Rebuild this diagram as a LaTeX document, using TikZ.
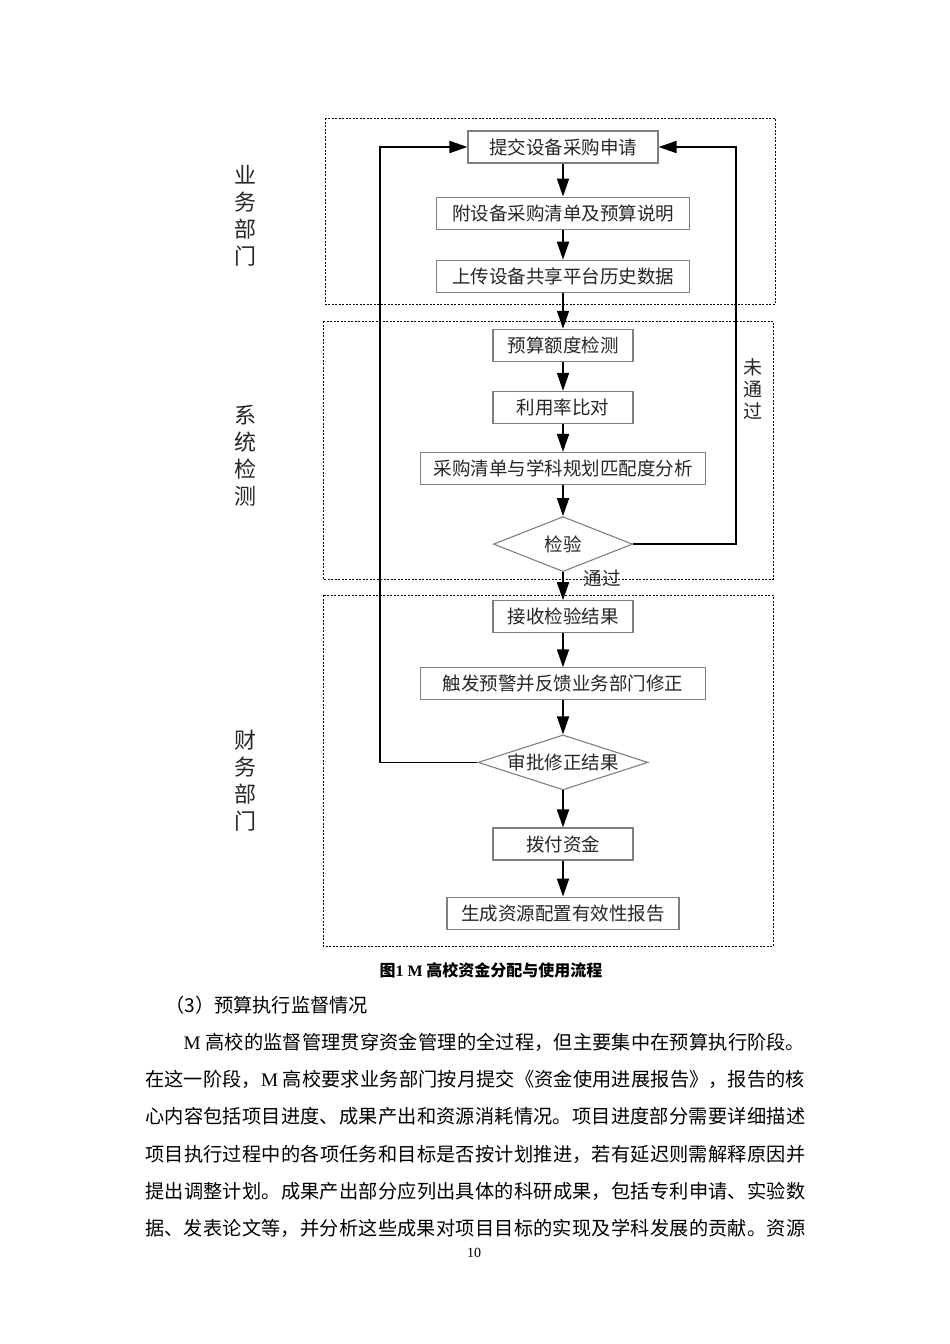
\documentclass[tikz,border=0pt]{standalone}
\usepackage{fontspec}
\setmainfont{Liberation Serif}
\newfontfamily\cjk{Noto Sans CJK SC}
\XeTeXlinebreaklocale "zh"
\XeTeXlinebreakskip=0pt plus 1pt
\usetikzlibrary{
  arrows.meta,
  shapes.geometric,
  positioning
}
\definecolor{fcLine}{HTML}{7F7F7F}
\definecolor{fcText}{HTML}{262626}
\tikzset{
  procbox/.style={
    draw=fcLine, line width=1.1pt, minimum height=32pt, inner sep=0pt,
    font=\cjk\fontsize{18.5}{20}\selectfont, text=fcText
  },
  decision/.style={procbox, diamond, minimum height=55pt, text height=16pt, text depth=2pt},
  zone/.style={draw, line width=1pt, dash pattern=on 2pt off 1.5pt},
  flow/.style={-{Triangle[length=18pt,width=12pt]}, line width=1.8pt},
  dept/.style={font=\cjk\fontsize{22}{27}\selectfont, align=center, text=fcText},
  tag/.style={font=\cjk\fontsize{18.5}{22}\selectfont, align=center, text=fcText, inner sep=0pt},
  bodytext/.style={font=\cjk\fontsize{19.2}{37.2}\selectfont, inner sep=0pt}
}

\begin{document}
\begin{tikzpicture}[x=1pt, y=-1pt, node distance=33pt]
  \useasboundingbox[fill=white] (0,0) rectangle (950,1344);

  % dashed zones
  \draw[zone] (325,118) rectangle (775,304);
  \draw[zone] (323,321) rectangle (773,579);
  \draw[zone] (323,595) rectangle (773,946);

  % department labels
  \node[dept] (s1) at (245,216) {业\\务\\部\\门};
  \node[dept] (s2) at (245,456) {系\\统\\检\\测};
  \node[dept] (s3) at (245,781) {财\\务\\部\\门};

  % flow steps
  \node[procbox, minimum width=190pt] (a) at (563,147) {提交设备采购申请};
  \node[procbox, minimum width=253pt, below=33pt of a] (b) {附设备采购清单及预算说明};
  \node[procbox, minimum width=253pt, below=30pt of b] (c) {上传设备共享平台历史数据};
  \node[procbox, minimum width=140pt, below=36pt of c] (d) {预算额度检测};
  \node[procbox, minimum width=140pt, below=29pt of d] (e) {利用率比对};
  \node[procbox, minimum width=285pt, below=28pt of e] (f) {采购清单与学科规划匹配度分析};
  \node[decision, minimum width=139pt, aspect=2.5, below=31pt of f] (g) {检验};
  \node[procbox, minimum width=140pt, below=28pt of g] (h) {接收检验结果};
  \node[procbox, minimum width=285pt, below=34pt of h] (i) {触发预警并反馈业务部门修正};
  \node[decision, minimum width=170pt, aspect=3.1, below=34pt of i] (j) {审批修正结果};
  \node[procbox, minimum width=140pt, below=37pt of j] (k) {拨付资金};
  \node[procbox, minimum width=232pt, below=36pt of k] (l) {生成资源配置有效性报告};

  \coordinate (rx) at (736,0);
  \coordinate (lx) at (380,0);

  \draw[flow] (a) -- (b);
  \draw[flow] (b) -- (c);
  \draw[flow] (c) -- (d);
  \draw[flow] (d) -- (e);
  \draw[flow] (e) -- (f);
  \draw[flow] (f) -- (g);
  \draw[flow] (g) -- node[tag, pos=0.22, right=20pt] (pass) {通过} (h);
  \draw[flow] (h) -- (i);
  \draw[flow] (i) -- (j);
  \draw[flow] (j) -- (k);
  \draw[flow] (k) -- (l);
  \draw[flow] (g.east) -| node[tag, pos=0.695, right=7pt, font=\cjk\fontsize{19}{22}\selectfont] (fail) {未\\通\\过} (rx |- a.east) -- (a.east);
  \draw[flow] (j.west) -| (lx |- a.west) -- (a.west);

  % caption and body text
  \node[font=\cjk\bfseries\fontsize{16}{18}\selectfont] (cap) at (491,970) {图{\rmfamily\bfseries 1 M} 高校资金分配与使用流程};
  \node[bodytext, anchor=west] (sec) at (165,1005) {（3）预算执行监督情况};
  \node[bodytext, anchor=north west, text width=660pt, align=justify] (par) at (145,1033) {\parfillskip=0pt
    \hspace*{2em}{\rmfamily M} 高校的监督管理贯穿资金管理的全过程，但主要集中在预算执行阶段。\linebreak
    在这一阶段，{\rmfamily M} 高校要求业务部门按月提交《资金使用进展报告》，报告的核\linebreak
    心内容包括项目进度、成果产出和资源消耗情况。项目进度部分需要详细描述\linebreak
    项目执行过程中的各项任务和目标是否按计划推进，若有延迟则需解释原因并\linebreak
    提出调整计划。成果产出部分应列出具体的科研成果，包括专利申请、实验数\linebreak
    据、发表论文等，并分析这些成果对项目目标的实现及学科发展的贡献。资源\par};
  \node[font=\fontsize{14}{16}\selectfont] (pg) at (474,1253) {10};
\end{tikzpicture}
\end{document}
